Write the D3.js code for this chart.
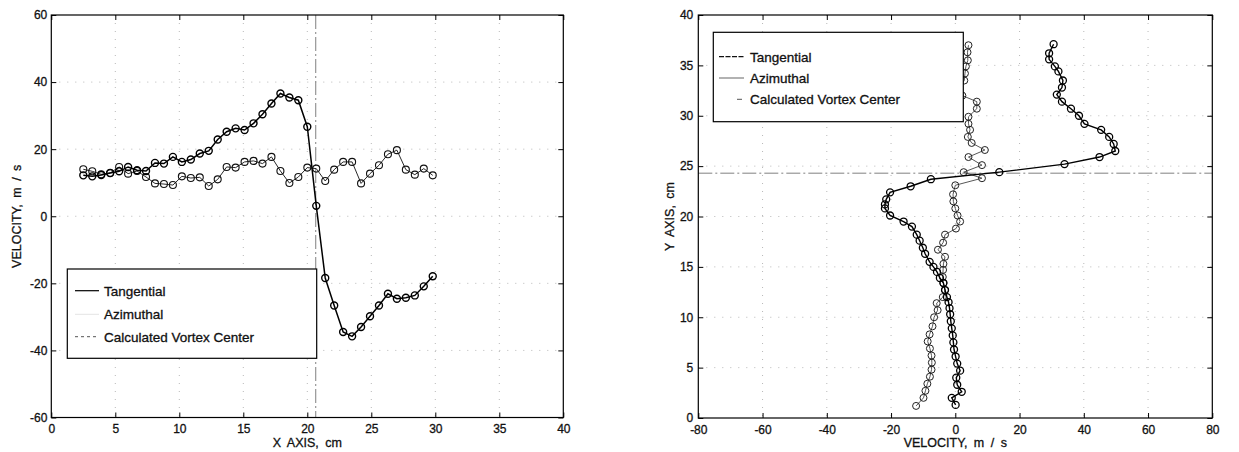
<!DOCTYPE html>
<html>
<head>
<meta charset="utf-8">
<script src="https://cdn.jsdelivr.net/npm/d3@7"></script>
<style>
  body { margin: 0; background: #fff; }
  svg { display: block; }
  text { font-family: "Liberation Sans", Arial, Helvetica, sans-serif; fill: #111; stroke: #111; stroke-width: 0.3; }
</style>
</head>
<body>
<svg id="fig" width="1239" height="452"></svg>
<script>
// ---- Left panel: velocity along the X traverse ----
const xPositions = [2.5, 3.2, 3.9, 4.6, 5.3, 6.0, 6.7, 7.4, 8.1, 8.8, 9.5, 10.2, 10.9, 11.6, 12.3, 13.0,
  13.7, 14.4, 15.1, 15.8, 16.5, 17.2, 17.9, 18.6, 19.3, 20.0, 20.7, 21.4, 22.1, 22.8, 23.5, 24.2,
  24.9, 25.6, 26.3, 27.0, 27.7, 28.4, 29.1, 29.8];
const tangentialAlongX = [12.2, 11.9, 12.3, 12.9, 13.4, 14.7, 13.7, 13.5, 15.9, 15.7, 17.7, 16.2, 16.9,
  18.7, 19.5, 22.9, 25.2, 26.2, 25.7, 27.7, 30.4, 33.6, 36.6, 35.4, 34.6, 26.7, 3.1, -18.4, -26.6,
  -34.5, -35.8, -33.0, -29.8, -26.6, -23.1, -24.6, -24.3, -23.6, -20.9, -17.9];
const azimuthalAlongX = [14.0, 13.4, 12.5, 12.9, 14.7, 12.7, 13.5, 11.7, 9.8, 9.6, 9.3, 11.9, 11.4,
  11.6, 9.0, 11.0, 14.7, 14.5, 16.2, 16.5, 15.7, 17.7, 13.5, 9.9, 11.7, 14.5, 14.2, 10.5, 13.9, 16.2,
  16.2, 9.8, 12.7, 15.2, 18.5, 19.7, 13.9, 12.4, 14.2, 12.2];
const vortexCenterX = 20.66;
const leftXTicks = [0, 5, 10, 15, 20, 25, 30, 35, 40];
const leftYTicks = [-60, -40, -20, 0, 20, 40, 60];

// ---- Right panel: velocity along the Y traverse ----
const yPositionsTan = [37.1, 36.2, 35.6, 34.9, 34.4, 33.5, 32.8, 32.1, 31.4, 30.7, 30.0, 29.2, 28.6,
  27.9, 27.2, 26.5, 25.9, 25.2, 24.4, 23.7, 23.0, 22.4, 21.7, 21.2, 20.8, 20.1, 19.5, 19.0, 18.2,
  17.6, 16.9, 16.3, 15.5, 15.0, 14.5, 13.9, 13.4, 12.7, 12.0, 11.5, 10.9, 10.3, 9.6, 8.9, 8.2, 7.5,
  6.8, 6.1, 5.4, 4.7, 4.0, 3.3, 2.6, 2.0, 1.3];
const tangentialAlongY = [30.6, 29.2, 29.2, 31.0, 32.1, 33.5, 33.2, 31.6, 33.2, 36.0, 38.5, 40.2, 45.4,
  47.9, 49.3, 49.8, 44.9, 34.0, 13.7, -7.6, -13.9, -20.3, -21.5, -21.9, -21.9, -20.3, -16.1, -13.5,
  -12.0, -11.1, -10.1, -9.4, -8.0, -6.8, -5.7, -4.8, -3.7, -3.2, -2.6, -2.1, -1.8, -1.6, -1.4, -1.1,
  -0.8, -0.6, -0.4, 0.1, 0.6, 1.5, 0.3, 0.6, 2.0, -1.1, 0.1];
const yPositionsAzi = [37.0, 36.3, 35.5, 34.9, 34.2, 33.5, 32.7, 32.0, 31.4, 30.7, 29.9, 29.2, 28.6,
  27.9, 27.3, 26.6, 25.9, 25.1, 24.4, 23.8, 23.1, 22.2, 21.5, 20.8, 20.1, 19.5, 18.8, 18.2, 17.4,
  16.7, 16.0, 15.3, 14.7, 14.0, 13.4, 12.7, 12.0, 11.4, 10.7, 10.0, 9.1, 8.3, 7.6, 6.9, 6.2, 5.5,
  4.8, 4.1, 3.4, 2.7, 2.0, 1.2];
const azimuthalAlongY = [4.1, 3.8, 3.9, 3.3, 3.0, 2.8, 1.1, 2.2, 6.7, 6.7, 4.1, 4.1, 4.6, 3.9, 5.1,
  9.2, 4.1, 8.3, 2.6, 8.3, 0.0, -0.7, -0.6, 0.0, 0.7, 1.5, 0.2, -3.2, -3.8, -5.4, -3.2, -3.7, -3.8,
  -3.9, -3.7, -3.2, -3.9, -5.8, -5.5, -6.6, -7.1, -8.0, -8.6, -7.9, -7.4, -7.3, -7.4, -7.9, -8.7,
  -9.3, -9.9, -12.2];
const vortexCenterY = 24.3;
const rightXTicks = [-80, -60, -40, -20, 0, 20, 40, 60, 80];
const rightYTicks = [0, 5, 10, 15, 20, 25, 30, 35, 40];

const legendLabels = ["Tangential", "Azimuthal", "Calculated Vortex Center"];

const svg = d3.select("#fig");
const fmt = d => String(d);

function makePanel(o) {
  const x = d3.scaleLinear().domain(o.xDomain).range([o.left, o.right]);
  const y = d3.scaleLinear().domain(o.yDomain).range([o.bottom, o.top]);
  const g = svg.append("g");

  // faint dotted grid at the major ticks
  const grid = g.append("g").attr("stroke", "#b8b8b8").attr("stroke-dasharray", "1,7");
  grid.selectAll("line.gx").data(o.xTicks.slice(1, -1)).join("line")
    .attr("x1", d => x(d)).attr("x2", d => x(d)).attr("y1", o.top).attr("y2", o.bottom);
  grid.selectAll("line.gy").data(o.yTicks.slice(1, -1)).join("line")
    .attr("y1", d => y(d)).attr("y2", d => y(d)).attr("x1", o.left).attr("x2", o.right);
  return { g, x, y };
}

function drawAxes(p, o) {
  const { g, x, y } = p;
  const styleAxis = sel => {
    sel.select(".domain").remove();
    sel.selectAll(".tick line").attr("stroke", "#000");
    sel.selectAll("text").attr("font-size", 12).attr("fill", "#111");
  };
  g.append("g").attr("transform", `translate(0,${o.bottom})`)
    .call(d3.axisBottom(x).tickValues(o.xTicks).tickSize(-5).tickPadding(7).tickFormat(fmt))
    .call(styleAxis);
  g.append("g").attr("transform", `translate(0,${o.top})`)
    .call(d3.axisTop(x).tickValues(o.xTicks).tickSize(-5).tickFormat(""))
    .call(styleAxis);
  g.append("g").attr("transform", `translate(${o.left},0)`)
    .call(d3.axisLeft(y).tickValues(o.yTicks).tickSize(-5).tickPadding(o.yPad).tickFormat(fmt))
    .call(styleAxis);
  g.append("g").attr("transform", `translate(${o.right},0)`)
    .call(d3.axisRight(y).tickValues(o.yTicks).tickSize(-5).tickFormat(""))
    .call(styleAxis);
  g.append("rect")
    .attr("x", o.left).attr("y", o.top)
    .attr("width", o.right - o.left).attr("height", o.bottom - o.top)
    .attr("fill", "none").attr("stroke", "#000").attr("stroke-width", 1.2);

  g.append("text")
    .attr("x", (o.left + o.right) / 2).attr("y", 447)
    .attr("text-anchor", "middle").attr("font-size", 12.5).attr("word-spacing", 3)
    .text(o.xTitle);
  g.append("text")
    .attr("transform", `translate(${o.yTitleX},${(o.top + o.bottom) / 2}) rotate(-90)`)
    .attr("text-anchor", "middle").attr("font-size", 12.5).attr("word-spacing", 3)
    .text(o.yTitle);
}

function drawSeries(g, pts, xf, yf, lineStyle, markerStyle) {
  const line = d3.line().x(xf).y(yf);
  g.append("path").datum(pts).attr("d", line)
    .attr("fill", "none").attr("stroke", lineStyle.color).attr("stroke-width", lineStyle.width);
  g.append("g").selectAll("circle").data(pts).join("circle")
    .attr("cx", xf).attr("cy", yf).attr("r", 3.5)
    .attr("fill", "none").attr("stroke", markerStyle.color).attr("stroke-width", markerStyle.width);
}

function drawLegend(g, box, samples) {
  g.append("rect").attr("x", box.x).attr("y", box.y).attr("width", box.w).attr("height", box.h)
    .attr("fill", "#fff").attr("stroke", "#000").attr("stroke-width", 1.2);
  legendLabels.forEach((label, i) => {
    const cy = box.rowY[i];
    const s = samples[i];
    g.append("line").attr("x1", box.sx0).attr("x2", box.sx1).attr("y1", cy).attr("y2", cy)
      .attr("stroke", s.color).attr("stroke-width", s.width)
      .attr("stroke-dasharray", s.dash || null);
    g.append("text").attr("x", box.tx).attr("y", cy).attr("dy", "0.36em")
      .attr("font-size", 13.5).text(label);
  });
}

// ---- Left panel ----
const L = { left: 51.3, right: 563.3, top: 15, bottom: 417.5,
  xDomain: [0, 40], yDomain: [-60, 60], xTicks: leftXTicks, yTicks: leftYTicks, yPad: 4,
  xTitle: "X AXIS, cm", yTitle: "VELOCITY, m / s", yTitleX: 21 };
const pL = makePanel(L);
pL.g.append("line")
  .attr("x1", pL.x(vortexCenterX)).attr("x2", pL.x(vortexCenterX))
  .attr("y1", L.top).attr("y2", L.bottom)
  .attr("stroke", "#808080").attr("stroke-width", 1).attr("stroke-dasharray", "14,3,2,3");
const leftTan = xPositions.map((v, i) => ({ x: v, v: tangentialAlongX[i] }));
const leftAzi = xPositions.map((v, i) => ({ x: v, v: azimuthalAlongX[i] }));
drawSeries(pL.g, leftAzi, d => pL.x(d.x), d => pL.y(d.v), { color: "#111", width: 0.9 }, { color: "#111", width: 1.1 });
drawSeries(pL.g, leftTan, d => pL.x(d.x), d => pL.y(d.v), { color: "#000", width: 1.5 }, { color: "#000", width: 1.4 });
drawLegend(pL.g,
  { x: 67.3, y: 269, w: 249.4, h: 89.3, rowY: [290.7, 314.3, 336.7], sx0: 75, sx1: 99, tx: 104 },
  [{ color: "#000", width: 1.2 }, { color: "#e4e4e4", width: 1 }, { color: "#555", width: 1, dash: "3,3" }]);
drawAxes(pL, L);

// ---- Right panel ----
const R = { left: 698.3, right: 1212.3, top: 15, bottom: 418,
  xDomain: [-80, 80], yDomain: [0, 40], xTicks: rightXTicks, yTicks: rightYTicks, yPad: 5,
  xTitle: "VELOCITY, m / s", yTitle: "Y AXIS, cm", yTitleX: 674 };
const pR = makePanel(R);
pR.g.append("line")
  .attr("x1", R.left).attr("x2", R.right)
  .attr("y1", pR.y(vortexCenterY)).attr("y2", pR.y(vortexCenterY))
  .attr("stroke", "#808080").attr("stroke-width", 1).attr("stroke-dasharray", "14,3,2,3");
const rightTan = yPositionsTan.map((v, i) => ({ y: v, v: tangentialAlongY[i] }));
const rightAzi = yPositionsAzi.map((v, i) => ({ y: v, v: azimuthalAlongY[i] }));
drawSeries(pR.g, rightAzi, d => pR.x(d.v), d => pR.y(d.y), { color: "#444", width: 0.9 }, { color: "#222", width: 1 });
drawSeries(pR.g, rightTan, d => pR.x(d.v), d => pR.y(d.y), { color: "#000", width: 1.4 }, { color: "#000", width: 1.3 });
drawLegend(pR.g,
  { x: 713.3, y: 32.3, w: 250, h: 89.4, rowY: [56.7, 78, 99.3], sx0: 719, sx1: 744, tx: 750 },
  [{ color: "#111", width: 1.2, dash: "5,1.5" }, { color: "#999", width: 1.5 }, { color: "#555", width: 1, dash: "0,18,5,20" }]);
drawAxes(pR, R);
</script>
</body>
</html>
